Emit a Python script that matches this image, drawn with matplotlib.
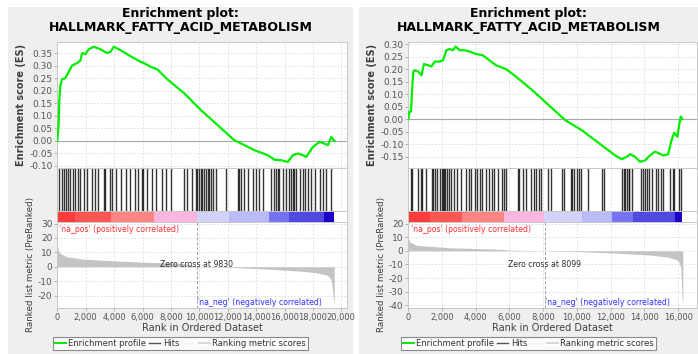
import numpy as np
import matplotlib
matplotlib.use('Agg')
import matplotlib.pyplot as plt
from matplotlib.lines import Line2D
from matplotlib.patches import Rectangle
from matplotlib.ticker import FuncFormatter, MultipleLocator

plt.rcParams['axes.unicode_minus'] = False

gene_set = 'HALLMARK_FATTY_ACID_METABOLISM'

# ---- left panel (dataset 1) ----
es_rank_1 = [0, 94, 141, 212, 330, 565, 801, 1037, 1390, 1626, 1743, 1979, 2215, 2568, 3039, 3510,
             3746, 3982, 4335, 4924, 5395, 5866, 6102, 6573, 7044, 7751, 8929, 10107, 11285, 12463,
             12934, 13877, 14819, 15290, 15761, 16232, 16586, 16939, 17293, 17528, 17999, 18471,
             18824, 19060, 19296, 19450, 19520]
es_val_1 = [0.0, 0.07, 0.16, 0.22, 0.245, 0.25, 0.275, 0.30, 0.31, 0.32, 0.35, 0.345, 0.365, 0.375,
            0.365, 0.35, 0.355, 0.375, 0.365, 0.345, 0.33, 0.315, 0.31, 0.295, 0.285, 0.245, 0.19,
            0.123, 0.063, 0.003, -0.01, -0.037, -0.057, -0.075, -0.077, -0.084, -0.057, -0.05,
            -0.057, -0.064, -0.024, -0.004, -0.011, -0.017, 0.016, 0.003, 0.0]
hits_1 = [94, 330, 448, 613, 754, 919, 1084, 1225, 1461, 1625, 1861, 2097, 2450, 2638, 2874, 3274,
          3392, 3745, 3863, 4099, 4452, 4805, 5088, 5465, 5700, 5936, 6030, 6337, 6690, 6926, 7397,
          7632, 7986, 8928, 9164, 9517, 9753, 9871, 9988, 10106, 10224, 10342, 10459, 10577, 10695,
          10813, 10930, 11166, 11873, 12697, 12815, 12933, 13168, 13404, 13757, 13993, 14229, 14464,
          15053, 15289, 15407, 15524, 15642, 15878, 16113, 16349, 16467, 16585, 16702, 16820, 17056,
          17291, 17409, 17645, 17880, 18116, 18469, 18705, 18940, 19294]
metric_rank_1 = [0, 70, 190, 660, 1830, 4180, 6530, 8880, 9830, 12400, 14760, 17100, 18280, 19000,
                 19220, 19340, 19460, 19500]
metric_val_1 = [16, 11.6, 9.3, 7, 5.3, 4, 3, 2.3, 0, -0.5, -1.6, -3, -4.2, -5.8, -8, -11.6, -24.4, -26]
bar_edges_1 = [0, 1270, 3750, 6800, 9850, 12100, 14900, 16350, 18800, 19500]
bar_colors_1 = ['#ff3c3c', '#ff5555', '#ff8585', '#fab6dc', '#d2d2fa', '#babaf8', '#7474f2',
                '#5048e0', '#1c00c8']
zero_cross_1 = 9830
xmax_1 = 20400
es_lim_1 = (-0.108, 0.394)
metric_lim_1 = (-28.6, 31.4)
metric_ticks_1 = [-20, -10, 0, 10, 20, 30]

# ---- right panel (dataset 2) ----
es_rank_2 = [0, 59, 157, 236, 294, 393, 589, 785, 923, 1178, 1374, 1570, 1865, 2061, 2257, 2454,
             2650, 2807, 3043, 3337, 3632, 4024, 4417, 4809, 5202, 5791, 6380, 7361, 8343, 9324,
             10306, 10698, 11484, 12269, 12662, 12956, 13152, 13447, 13741, 14035, 14330, 14624,
             14820, 15115, 15410, 15606, 15763, 15959, 16057, 16156, 16254]
es_val_2 = [0.0, 0.03, 0.03, 0.13, 0.19, 0.195, 0.19, 0.175, 0.22, 0.215, 0.21, 0.23, 0.23, 0.235,
            0.275, 0.28, 0.275, 0.29, 0.275, 0.275, 0.27, 0.26, 0.255, 0.235, 0.215, 0.2, 0.17,
            0.115, 0.055, -0.005, -0.045, -0.065, -0.105, -0.145, -0.16, -0.15, -0.14, -0.15,
            -0.17, -0.165, -0.145, -0.13, -0.135, -0.145, -0.14, -0.085, -0.055, -0.07, -0.025,
            0.01, 0.0]
hits_2 = [159, 238, 552, 748, 827, 1023, 1376, 1475, 1612, 1730, 1867, 2005, 2063, 2122, 2201, 2319,
          2417, 2554, 2711, 2908, 3143, 3438, 3575, 3732, 3929, 4086, 4223, 4361, 4616, 4812, 4950,
          5107, 5303, 5539, 5657, 5794, 6481, 6579, 6776, 6972, 7267, 7463, 7561, 7758, 7856, 8288,
          8445, 9132, 9230, 9623, 9721, 9819, 9976, 10114, 10251, 10644, 11488, 11586, 12666, 12764,
          12862, 12960, 13058, 13117, 13255, 13785, 13903, 14040, 14138, 14295, 14433, 14688, 14825,
          14963, 15120, 15512, 15669, 15748, 16063, 16142]
metric_rank_2 = [0, 98, 491, 2454, 4417, 5693, 5750, 8099, 10306, 12269, 14232, 15410, 15999, 16156,
                 16254, 16280]
metric_val_2 = [9.6, 6.4, 4, 2.2, 1.5, 1.0, 0.6, 0, -0.7, -1.7, -3, -4.7, -7, -12, -37.7, -38]
bar_edges_2 = [0, 1300, 3200, 5700, 8050, 10300, 12080, 13350, 15800, 16260]
bar_colors_2 = ['#ff3c3c', '#ff5555', '#ff8585', '#fab6dc', '#d2d2fa', '#babaf8', '#7474f2',
                '#5048e0', '#1c00c8']
zero_cross_2 = 8099
xmax_2 = 17120
es_lim_2 = (-0.195, 0.308)
metric_lim_2 = (-42, 21.5)
metric_ticks_2 = [-40, -30, -20, -10, 0, 10, 20]

W, H = 698, 354
fig = plt.figure(figsize=(W / 100, H / 100), dpi=100)
fig.patch.set_facecolor('white')

tick_col = '#555555'
grid_kw = dict(color='#d9d9d9', lw=0.6, ls=(0, (2, 2)))


def fx(px):
    return px / W


def fy(py):
    return 1 - py / H


def box(x0, x1, y0, y1):
    return [fx(x0), fy(y1), fx(x1) - fx(x0), fy(y0) - fy(y1)]


def style_axes(ax):
    ax.set_facecolor('white')
    for s in ax.spines.values():
        s.set_color('#c8c8c8')
        s.set_linewidth(0.7)
    ax.tick_params(colors='#999999', labelcolor=tick_col, labelsize=6.5, length=2, width=0.5, pad=1.5)


def draw_panel(px0, px1, ax_left, ax_right, es_rank, es_val, hits, metric_rank, metric_val,
               bar_edges, bar_colors, zero_cross, xmax, es_lim, metric_lim, metric_ticks):
    fig.patches.append(Rectangle((fx(px0), 0), fx(px1) - fx(px0), fy(7), transform=fig.transFigure,
                                 facecolor='#efefef', edgecolor='none', zorder=-10))
    cx = fx((px0 + px1) / 2)
    fig.text(cx, fy(14), 'Enrichment plot:', ha='center', va='center', fontsize=9, weight='bold')
    fig.text(cx, fy(28), gene_set, ha='center', va='center', fontsize=9, weight='bold')

    ax_es = fig.add_axes(box(ax_left, ax_right, 42, 168))
    ax_hit = fig.add_axes(box(ax_left, ax_right, 168, 210.5))
    ax_bar = fig.add_axes(box(ax_left, ax_right, 210.5, 221.5))
    ax_m = fig.add_axes(box(ax_left, ax_right, 221.5, 308))
    for ax in (ax_es, ax_hit, ax_bar, ax_m):
        style_axes(ax)
        ax.set_xlim(0, xmax)
        ax.xaxis.set_major_locator(MultipleLocator(2000))

    # enrichment score
    ax_es.grid(True, **grid_kw)
    ax_es.axhline(0, color='#a8a8a8', lw=0.8)
    ax_es.plot(es_rank, es_val, color='#00ee00', lw=1.6, zorder=3)
    ax_es.set_ylim(*es_lim)
    ax_es.yaxis.set_major_locator(MultipleLocator(0.05))
    ax_es.yaxis.set_major_formatter(FuncFormatter(lambda v, p: f'{v:.2f}'))
    ax_es.tick_params(axis='x', bottom=False, labelbottom=False)
    ax_es.set_ylabel('Enrichment score (ES)', fontsize=7, weight='bold', color='#404040', labelpad=2)

    # hits
    ax_hit.grid(True, axis='x', **grid_kw)
    ax_hit.vlines(hits, 0, 1, color='#111111', lw=1.0, alpha=0.85)
    ax_hit.set_ylim(0, 1)
    ax_hit.set_yticks([])
    ax_hit.tick_params(axis='x', bottom=False, labelbottom=False)

    # ranked list colour bar
    for i, c in enumerate(bar_colors):
        ax_bar.axvspan(bar_edges[i], bar_edges[i + 1], color=c, lw=0)
    ax_bar.set_ylim(0, 1)
    ax_bar.set_yticks([])
    ax_bar.tick_params(axis='x', bottom=False, labelbottom=False)

    # ranked list metric
    ax_m.grid(True, **grid_kw)
    ax_m.fill_between(metric_rank, metric_val, 0, color='#c4c4c4', lw=0, zorder=2)
    ax_m.axvline(zero_cross, color='#a0a0a0', lw=0.7, ls=(0, (3, 2)), zorder=3)
    ax_m.set_ylim(*metric_lim)
    ax_m.set_yticks(metric_ticks)
    ax_m.xaxis.set_major_formatter(FuncFormatter(lambda v, p: f'{int(v):,}'))
    ax_m.tick_params(axis='x', labelsize=6)
    ax_m.set_xlabel('Rank in Ordered Dataset', fontsize=7, color='#404040', labelpad=1)
    ax_m.set_ylabel('Ranked list metric (PreRanked)', fontsize=6.3, color='#404040', labelpad=2)
    ax_m.text(150, 0.96, "'na_pos' (positively correlated)", transform=ax_m.get_xaxis_transform(),
              ha='left', va='top', fontsize=5.6, color='#ff3030')
    ax_m.text(zero_cross, 0.06, "'na_neg' (negatively correlated)", transform=ax_m.get_xaxis_transform(),
              ha='left', va='center', fontsize=5.6, color='#3030ff')
    ax_m.text(zero_cross, 0.5, f'Zero cross at {zero_cross}', transform=ax_m.get_xaxis_transform(),
              ha='center', va='center', fontsize=5.6, color='#303030', zorder=4)

    handles = [Line2D([], [], color='#00ee00', lw=1.4),
               Line2D([], [], color='#555555', lw=1.0),
               Line2D([], [], color='#f4f4f4', lw=1.0),
               Line2D([], [], color='#d8d8d8', lw=1.4)]
    labels = ['Enrichment profile', 'Hits', '', 'Ranking metric scores']
    leg = fig.legend(handles, labels, loc='center', bbox_to_anchor=(cx, fy(343.5)), ncol=4,
                     fontsize=6, frameon=True, fancybox=False, handlelength=1.3,
                     handletextpad=0.3, columnspacing=0.4, borderpad=0.25, borderaxespad=0)
    leg.get_frame().set_edgecolor('#707070')
    leg.get_frame().set_linewidth(0.8)
    for t in leg.get_texts():
        t.set_color('#303030')


draw_panel(8, 353, 57.3, 347, es_rank_1, es_val_1, hits_1, metric_rank_1, metric_val_1,
           bar_edges_1, bar_colors_1, zero_cross_1, xmax_1, es_lim_1, metric_lim_1, metric_ticks_1)
draw_panel(359, 698, 408.3, 697, es_rank_2, es_val_2, hits_2, metric_rank_2, metric_val_2,
           bar_edges_2, bar_colors_2, zero_cross_2, xmax_2, es_lim_2, metric_lim_2, metric_ticks_2)

fig.savefig('out.png', dpi=100)
